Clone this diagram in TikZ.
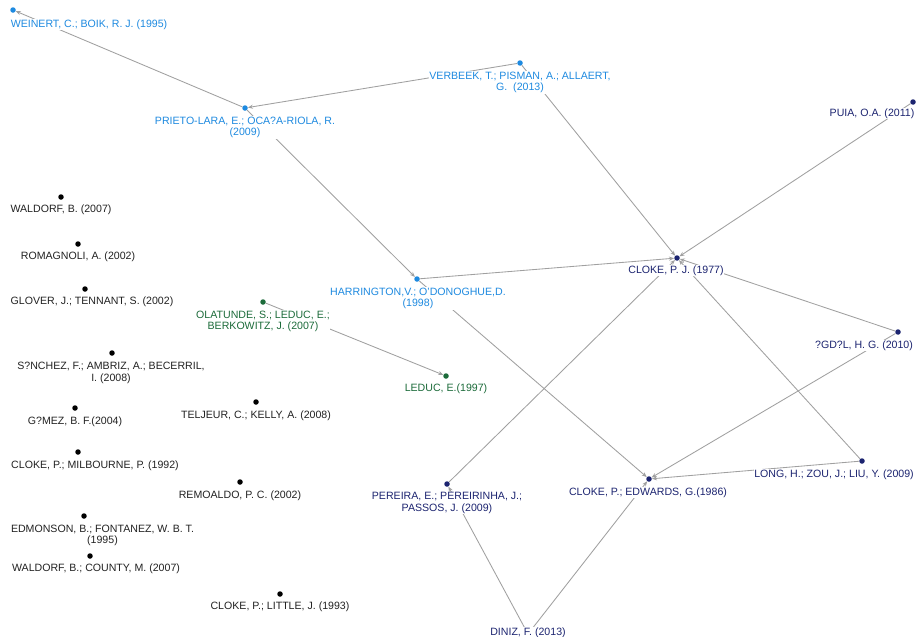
\documentclass[tikz,border=0pt]{standalone}
\usepackage{fontspec}
\setmainfont{Liberation Sans}
\usetikzlibrary{arrows.meta}
\definecolor{lblue}{HTML}{1E8AE0}
\definecolor{navy}{HTML}{1C2470}
\definecolor{dgreen}{HTML}{1C6B3A}
\definecolor{blk}{HTML}{222222}
\definecolor{edgec}{HTML}{A0A0A0}
\tikzset{
  dot/.style={circle,fill=#1,inner sep=0pt,minimum size=5.5pt},
  lab/.style={text=#1,fill=white,inner sep=0.6pt,align=center,yshift=-1.8pt,
    font=\fontsize{10.6}{11.8}\selectfont},
  edge/.style={draw=edgec,line width=0.85pt,-{Stealth[length=5pt,width=4pt]}},
}
\begin{document}
\begin{tikzpicture}[x=1pt,y=-1pt]
\clip (0,0) rectangle (916,637);
\fill[white] (0,0) rectangle (916,637);
% dots
\node[dot=lblue] (weinert) at (13,10) {};
\node[dot=lblue] (prieto) at (245,108) {};
\node[dot=lblue] (verbeek) at (520,63) {};
\node[dot=lblue] (harr) at (417,279) {};
\node[dot=navy] (cloke77) at (677,258) {};
\node[dot=navy] (puia) at (913,102) {};
\node[dot=navy] (gdl) at (898,332) {};
\node[dot=navy] (long) at (862,461) {};
\node[dot=navy] (cloke86) at (649,479) {};
\node[dot=navy] (pereira) at (447,484) {};
\node[dot=navy] (diniz) at (528,634) {};
\node[dot=dgreen] (olat) at (263,302) {};
\node[dot=dgreen] (leduc) at (446,376) {};
\node[dot=black] (wald1) at (61,197) {};
\node[dot=black] (romag) at (78,244) {};
\node[dot=black] (glover) at (85,289) {};
\node[dot=black] (sanchez) at (112,353) {};
\node[dot=black] (gomez) at (75,408) {};
\node[dot=black] (teljeur) at (256,402) {};
\node[dot=black] (milb) at (78,452) {};
\node[dot=black] (remoaldo) at (240,482) {};
\node[dot=black] (edmon) at (84,516) {};
\node[dot=black] (wald2) at (90,556) {};
\node[dot=black] (little) at (280,594) {};
% edges
\draw[edge] (prieto) -- (weinert);
\draw[edge] (verbeek) -- (prieto);
\draw[edge] (prieto) -- (harr);
\draw[edge] (verbeek) -- (cloke77);
\draw[edge] (harr) -- (cloke77);
\draw[edge] (puia) -- (cloke77);
\draw[edge] (gdl) -- (cloke77);
\draw[edge] (long) -- (cloke77);
\draw[edge] (pereira) -- (cloke77);
\draw[edge] (harr) -- (cloke86);
\draw[edge] (gdl) -- (cloke86);
\draw[edge] (long) -- (cloke86);
\draw[edge] (diniz) -- (pereira);
\draw[edge] (diniz) -- (cloke86);
\draw[edge] (olat) -- (leduc);
% labels
\node[lab=lblue] (lweinert) at (89,23) {WEINERT, C.; BOIK, R. J. (1995)};
\node[lab=lblue] (lprieto) at (245,125.5) {PRIETO-LARA, E.; OCA?A-RIOLA, R.\\(2009)};
\node[lab=lblue] (lverbeek) at (520,80.5) {VERBEEK, T.; PISMAN, A.; ALLAERT,\\G.\ \ (2013)};
\node[lab=lblue] (lharr) at (418,296.5) {HARRINGTON,V.; O'DONOGHUE,D.\\(1998)};
\node[lab=navy] (lcloke77) at (676,269) {CLOKE, P. J. (1977)};
\node[lab=navy] (lpuia) at (872,112) {PUIA, O.A. (2011)};
\node[lab=navy] (lgdl) at (864,344) {?GD?L, H. G. (2010)};
\node[lab=navy] (llong) at (834,473) {LONG, H.; ZOU, J.; LIU, Y. (2009)};
\node[lab=navy] (lcloke86) at (648,491) {CLOKE, P.; EDWARDS, G.(1986)};
\node[lab=navy] (lpereira) at (447,501) {PEREIRA, E.; PEREIRINHA, J.;\\PASSOS, J. (2009)};
\node[lab=navy] (ldiniz) at (528,631) {DINIZ, F. (2013)};
\node[lab=dgreen] (lolat) at (263,319.5) {OLATUNDE, S.; LEDUC, E.;\\BERKOWITZ, J. (2007)};
\node[lab=dgreen] (lleduc) at (446,387) {LEDUC, E.(1997)};
\node[lab=blk] (lwald1) at (61,208) {WALDORF, B. (2007)};
\node[lab=blk] (lromag) at (78,255) {ROMAGNOLI, A. (2002)};
\node[lab=blk] (lglover) at (92,300) {GLOVER, J.; TENNANT, S. (2002)};
\node[lab=blk] (lsanchez) at (111,371) {S?NCHEZ, F.; AMBRIZ, A.; BECERRIL,\\I. (2008)};
\node[lab=blk] (lgomez) at (75,420) {G?MEZ, B. F.(2004)};
\node[lab=blk] (lteljeur) at (256,414) {TELJEUR, C.; KELLY, A. (2008)};
\node[lab=blk] (lmilb) at (95,464) {CLOKE, P.; MILBOURNE, P. (1992)};
\node[lab=blk] (lremoaldo) at (240,494) {REMOALDO, P. C. (2002)};
\node[lab=blk] (ledmon) at (102.5,533.5) {EDMONSON, B.; FONTANEZ, W. B. T.\\(1995)};
\node[lab=blk] (lwald2) at (96,567) {WALDORF, B.; COUNTY, M. (2007)};
\node[lab=blk] (llittle) at (280,605) {CLOKE, P.; LITTLE, J. (1993)};
\end{tikzpicture}
\end{document}
